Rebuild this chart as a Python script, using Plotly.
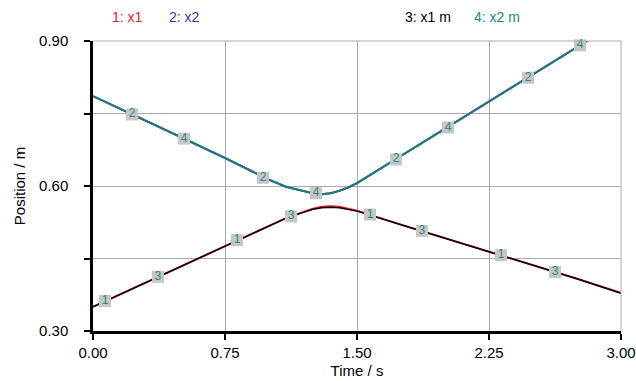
import plotly.graph_objects as go

# ---- data ----
t_x1 = [0, 0.25, 0.5, 0.75, 1.0, 1.1, 1.2, 1.25, 1.3, 1.35, 1.4, 1.45, 1.5, 1.75, 2.0, 2.25, 2.5, 2.75, 3.0]
x1 = [0.350, 0.392, 0.434, 0.476, 0.518, 0.534, 0.547, 0.553, 0.557, 0.558, 0.557, 0.553, 0.549, 0.520, 0.492, 0.465, 0.437, 0.408, 0.379]
x1m = [0.350, 0.392, 0.434, 0.476, 0.518, 0.534, 0.546, 0.552, 0.555, 0.556, 0.555, 0.552, 0.548, 0.520, 0.492, 0.465, 0.437, 0.408, 0.378]

t_x2 = [0, 0.25, 0.5, 0.75, 1.0, 1.1, 1.2, 1.25, 1.3, 1.35, 1.4, 1.45, 1.5, 1.75, 2.0, 2.25, 2.5, 2.75, 2.86]
x2 = [0.786, 0.744, 0.701, 0.658, 0.613, 0.598, 0.589, 0.585, 0.583, 0.585, 0.590, 0.597, 0.606, 0.662, 0.718, 0.774, 0.830, 0.887, 0.912]
x2m = [0.786, 0.744, 0.701, 0.658, 0.613, 0.598, 0.589, 0.585, 0.583, 0.585, 0.590, 0.597, 0.606, 0.662, 0.718, 0.774, 0.830, 0.887, 0.912]

# marker label positions (time, value)
m1_t = [0.068, 0.818, 1.574, 2.318]
m1_v = [0.362, 0.488, 0.541, 0.457]
m3_t = [0.369, 1.125, 1.869, 2.625]
m3_v = [0.412, 0.537, 0.507, 0.422]
m2_t = [0.222, 0.966, 1.722, 2.472]
m2_v = [0.748, 0.617, 0.655, 0.824]
m4_t = [0.517, 1.267, 2.017, 2.767]
m4_v = [0.698, 0.585, 0.721, 0.891]

x_ticks = [0.0, 0.75, 1.5, 2.25, 3.0]
x_ticktext = ["0.00", "0.75", "1.50", "2.25", "3.00"]
y_ticks = [0.30, 0.45, 0.60, 0.75, 0.90]
y_ticktext = ["0.30", "", "0.60", "", "0.90"]

legend_names = ["1: x1", "2: x2", "3: x1 m", "4: x2 m"]

# ---- styles ----
RED = "#e8202c"
BLUE = "#3a3a9c"
BLACK = "#000000"
TEAL = "#1a7d78"
LBL = "#2a8a78"
BOX = "#c6c6c6"
FONT = "Liberation Sans, Arial, sans-serif"

W, H = 636, 381
ML, MR, MT, MB = 93, 15, 41, 50
PW, PH = W - ML - MR, H - MT - MB

fig = go.Figure()

fig.add_trace(go.Scatter(x=t_x1, y=x1, mode="lines", line=dict(color=RED, width=2), showlegend=False))
fig.add_trace(go.Scatter(x=t_x1, y=x1m, mode="lines", line=dict(color=BLACK, width=1.5), showlegend=False))
fig.add_trace(go.Scatter(x=t_x2, y=x2, mode="lines", line=dict(color=BLUE, width=2.1), showlegend=False))
fig.add_trace(go.Scatter(x=t_x2, y=x2m, mode="lines", line=dict(color=TEAL, width=1.8), showlegend=False))

for tt, vv, lab in [(m1_t, m1_v, "1"), (m3_t, m3_v, "3"), (m2_t, m2_v, "2"), (m4_t, m4_v, "4")]:
    fig.add_trace(go.Scatter(
        x=tt, y=vv, mode="markers+text", text=[lab] * len(tt),
        textposition="middle center",
        textfont=dict(family=FONT, size=12, color=LBL),
        marker=dict(symbol="square", size=12, color=BOX, line=dict(width=0)),
        showlegend=False, cliponaxis=False))

legend_x = [110, 167, 403, 472]
legend_colors = [RED, BLUE, BLACK, "#228877"]
for name, px, col in zip(legend_names, legend_x, legend_colors):
    fig.add_annotation(x=(px - ML) / PW, y=1 + (MT - 17) / PH, xref="paper", yref="paper",
                       text=name, showarrow=False, xanchor="left", yanchor="middle",
                       font=dict(family=FONT, size=14, color=col))

axis_common = dict(showgrid=True, gridcolor="#aaaaaa", gridwidth=1,
                   showline=True, linecolor="black", linewidth=2.5,
                   ticks="outside", ticklen=6, tickwidth=2, tickcolor="black",
                   tickfont=dict(family=FONT, size=15, color="black"),
                   zeroline=False, automargin=False)

fig.update_xaxes(range=[0, 3], tickmode="array", tickvals=x_ticks, ticktext=x_ticktext,
                 title=dict(text="Time / s", font=dict(family=FONT, size=15, color="black"), standoff=6),
                 ticklabelstandoff=0, **axis_common)
fig.update_yaxes(range=[0.3, 0.9], tickmode="array", tickvals=y_ticks, ticktext=y_ticktext,
                 title=dict(text="Position / m", font=dict(family=FONT, size=15, color="black"), standoff=10),
                 ticklabelstandoff=13, **axis_common)

# top and right frame (grey)
fig.add_shape(type="line", xref="paper", yref="paper", x0=0, x1=1, y0=1, y1=1, line=dict(color="#aaaaaa", width=1))
fig.add_shape(type="line", xref="paper", yref="paper", x0=1, x1=1, y0=0, y1=1, line=dict(color="#aaaaaa", width=1))

fig.update_layout(width=W, height=H, margin=dict(l=ML, r=MR, t=MT, b=MB),
                  plot_bgcolor="white", paper_bgcolor="white",
                  font=dict(family=FONT, color="black"))

fig.write_html("out.html")
